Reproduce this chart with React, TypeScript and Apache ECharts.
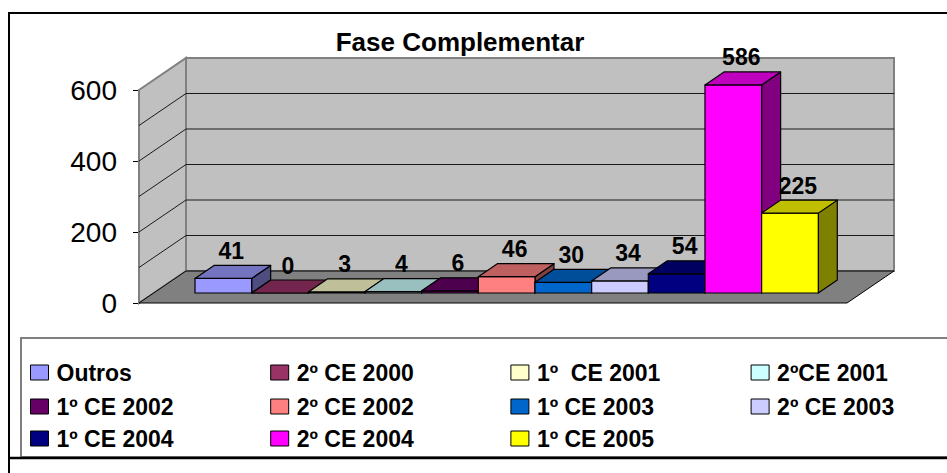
import React, { useEffect, useRef } from 'react';
import * as echarts from 'echarts';

// ---- data ----
const categories = [
  'Outros',
  '2º CE 2000',
  '1º  CE 2001',
  '2ºCE 2001',
  '1º CE 2002',
  '2º CE 2002',
  '1º CE 2003',
  '2º CE 2003',
  '1º CE 2004',
  '2º CE 2004',
  '1º CE 2005',
];
const values = [41, 0, 3, 4, 6, 46, 30, 34, 54, 586, 225];
const colors = [
  '#9999FF', '#993366', '#FFFFCC', '#CCFFFF', '#660066', '#FF8080',
  '#0066CC', '#CCCCFF', '#000080', '#FF00FF', '#FFFF00',
];
const yMax = 600;
const yLabelStep = 200;
const gridStep = 100;
const legendRows = [[0, 1, 2, 3], [4, 5, 6, 7], [8, 9, 10]];
const title = 'Fase Complementar';

// ---- styles ----
const FONT = '"Liberation Sans", Arial, Helvetica, sans-serif';
const WALL_DEPTH = [47, -32];
const BAR_DEPTH = [19, -13];
const LEGEND_TOPS = [361, 395, 427];
const COL_STEP = 239.7;

function shade(hex: string, k: number) {
  const n = parseInt(hex.slice(1), 16);
  const r = Math.round(((n >> 16) & 255) * k);
  const g = Math.round(((n >> 8) & 255) * k);
  const b = Math.round((n & 255) * k);
  return `rgb(${r},${g},${b})`;
}

export default function App() {
  const ref = useRef<HTMLDivElement>(null);
  useEffect(() => {
    if (!ref.current) return;
    const chart = echarts.init(ref.current, undefined, { renderer: 'svg' });

    const wallsSeries: any = {
      type: 'custom',
      name: '__walls',
      xAxisIndex: 1,
      yAxisIndex: 1,
      z: 1,
      silent: true,
      data: [[0, 0]],
      renderItem: (params: any, api: any) => {
        const cs = params.coordSys;
        const x0 = cs.x;
        const x1 = cs.x + cs.width;
        const yb = api.coord([0, 0])[1];
        const yt = api.coord([0, yMax])[1];
        const [DX, DY] = WALL_DEPTH;
        const children: any[] = [
          {
            type: 'polygon',
            shape: { points: [[x0, yt], [x0 + DX, yt + DY], [x0 + DX, yb + DY], [x0, yb]] },
            style: { fill: '#C0C0C0', stroke: '#808080', lineWidth: 2 },
          },
          {
            type: 'rect',
            shape: { x: x0 + DX, y: yt + DY, width: x1 - x0, height: yb - yt },
            style: { fill: '#C0C0C0', stroke: '#808080', lineWidth: 2 },
          },
          {
            type: 'polygon',
            shape: { points: [[x0, yb], [x0 + DX, yb + DY], [x1 + DX, yb + DY], [x1, yb]] },
            style: { fill: '#808080', stroke: '#000', lineWidth: 1 },
          },
        ];
        for (let v = gridStep; v < yMax; v += gridStep) {
          const y = api.coord([0, v])[1];
          children.push({
            type: 'line',
            shape: { x1: x0 + DX, y1: y + DY, x2: x1 + DX, y2: y + DY },
            style: { stroke: '#1a1a1a', lineWidth: 1 },
          });
          children.push({
            type: 'line',
            shape: { x1: x0, y1: y, x2: x0 + DX, y2: y + DY },
            style: { stroke: '#1a1a1a', lineWidth: 1 },
          });
        }
        return { type: 'group', children };
      },
    };

    const barSeries = categories.map((name, i) => ({
      type: 'custom',
      name,
      xAxisIndex: 0,
      yAxisIndex: 0,
      z: 2,
      itemStyle: { color: colors[i] },
      data: [[i, values[i]]],
      renderItem: (params: any, api: any) => {
        const idx = api.value(0);
        const v = api.value(1);
        const top = api.coord([idx, v]);
        const base = api.coord([idx, 0]);
        const w = api.size([1, 0])[0];
        const xl = top[0] - w / 2;
        const xr = top[0] + w / 2;
        const yt = top[1];
        const yb = base[1];
        const [dx, dy] = BAR_DEPTH;
        const c = colors[i];
        const stroke = { stroke: '#000', lineWidth: 1.2, lineJoin: 'round' };
        return {
          type: 'group',
          children: [
            {
              type: 'polygon',
              shape: { points: [[xr, yt], [xr + dx, yt + dy], [xr + dx, yb + dy], [xr, yb]] },
              style: { fill: shade(c, 0.5), ...stroke },
            },
            {
              type: 'rect',
              shape: { x: xl, y: yt, width: w, height: yb - yt },
              style: { fill: c, ...stroke },
            },
            {
              type: 'polygon',
              shape: { points: [[xl, yt], [xr, yt], [xr + dx, yt + dy], [xl + dx, yt + dy]] },
              style: { fill: shade(c, 0.75), ...stroke },
            },
            {
              type: 'text',
              z2: 100,
              x: top[0] + 8,
              y: yt + dy - 3,
              style: {
                text: String(v),
                font: `bold 23px ${FONT}`,
                fill: '#000',
                align: 'center',
                verticalAlign: 'bottom',
              },
            },
          ],
        };
      },
    }));

    const option: any = {
      animation: false,
      backgroundColor: '#fff',
      title: {
        text: title,
        left: 460,
        top: 29,
        padding: 0,
        textAlign: 'center',
        textStyle: { fontFamily: FONT, fontWeight: 'bold', fontSize: 26, color: '#000' },
      },
      grid: [
        { left: 195, top: 80, width: 623.3, height: 213 },
        { left: 139, top: 90, width: 708, height: 213 },
      ],
      xAxis: [
        { type: 'category', gridIndex: 0, data: categories, show: false, boundaryGap: true },
        { type: 'value', gridIndex: 1, min: 0, max: 1, show: false },
      ],
      yAxis: [
        { type: 'value', gridIndex: 0, min: 0, max: yMax, show: false },
        {
          type: 'value',
          gridIndex: 1,
          min: 0,
          max: yMax,
          interval: yLabelStep,
          axisLine: { show: true, lineStyle: { color: '#000', width: 1 } },
          axisTick: { show: true, length: 6, lineStyle: { color: '#000', width: 1 } },
          splitLine: { show: false },
          axisLabel: { fontFamily: FONT, fontSize: 28, color: '#000', margin: 22 },
        },
      ],
      legend: legendRows.map((row, r) => ({
        left: 30,
        top: LEGEND_TOPS[r],
        orient: 'horizontal',
        padding: 0,
        itemGap: 0,
        itemWidth: 18,
        itemHeight: 15,
        icon: 'rect',
        selectedMode: false,
        itemStyle: { borderColor: '#000', borderWidth: 1 },
        textStyle: {
          fontFamily: FONT,
          fontWeight: 'bold',
          fontSize: 23,
          color: '#000',
          padding: [0, 0, 0, 3],
          lineHeight: 16,
        },
        data: row.map((i, c) => ({
          name: categories[i],
          textStyle: c < 3 ? { width: COL_STEP - 18 - 5 - 3 } : {},
        })),
      })),
      graphic: [
        { type: 'line', shape: { x1: 9, y1: 13, x2: 947, y2: 13 }, style: { stroke: '#000', lineWidth: 2 } },
        { type: 'line', shape: { x1: 9, y1: 12, x2: 9, y2: 473 }, style: { stroke: '#000', lineWidth: 2 } },
        { type: 'rect', shape: { x: 21, y: 338, width: 940, height: 119 }, style: { fill: 'none', stroke: '#808080', lineWidth: 2 } },
        { type: 'line', shape: { x1: 9, y1: 458, x2: 947, y2: 458 }, style: { stroke: '#000', lineWidth: 2.5 } },
      ],
      series: [wallsSeries, ...barSeries],
    };
    chart.setOption(option);
    return () => chart.dispose();
  }, []);
  return (
    <div
      ref={ref}
      style={{ position: 'fixed', left: 0, top: 0, width: 947, height: 473, background: '#fff' }}
    />
  );
}
